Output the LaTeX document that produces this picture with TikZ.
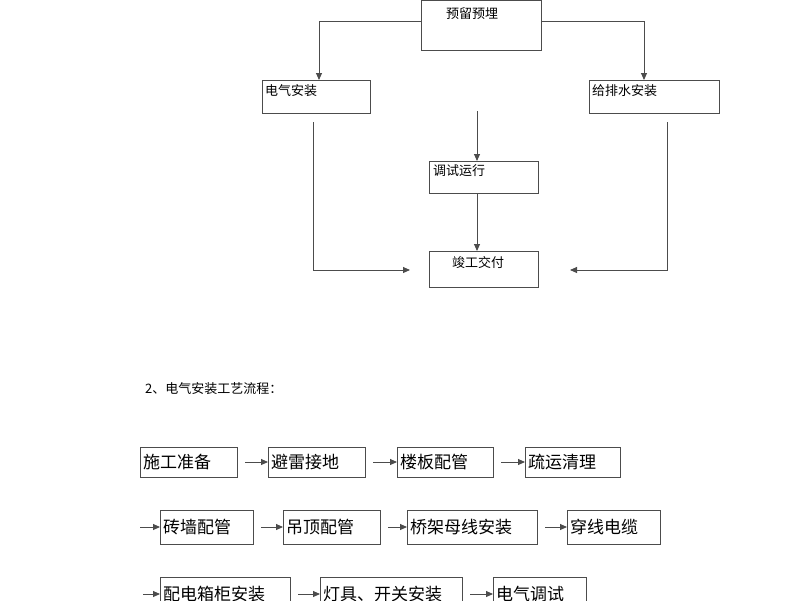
\documentclass[tikz,border=0pt]{standalone}
\usepackage{fontspec}
\setmainfont{Noto Sans CJK SC}
\usetikzlibrary{positioning,arrows.meta}
\tikzset{
	tbox/.style={draw=black!70, line width=0.9pt, inner sep=0pt, outer sep=0pt, anchor=north west},
	txt/.style={anchor=north west, inner sep=0pt, font=\fontsize{13}{13}\selectfont},
	rtxt/.style={anchor=west, inner sep=0pt, font=\fontsize{17}{17}\selectfont},
	flow/.style={-{Triangle[length=7pt,width=6pt]}, draw=black!70, line width=0.9pt},
}
\begin{document}
\begin{tikzpicture}[x=1pt,y=-1pt]
	\useasboundingbox (0,0) rectangle (800,600);
	
	% top flow chart.....................
	\node [tbox, minimum width=120pt, minimum height=50pt] (yl) at (421,0) {};
	\node [txt] at (446,7) {预留预埋};
	\node [tbox, minimum width=108pt, minimum height=33pt] (dq) at (262,80) {};
	\node [txt] at (265,84) {电气安装};
	\node [tbox, minimum width=130pt, minimum height=33pt] (gp) at (589,80) {};
	\node [txt] at (592,84) {给排水安装};
	\node [tbox, minimum width=109pt, minimum height=32pt] (ts) at (429,161) {};
	\node [txt] at (433,164) {调试运行};
	\node [tbox, minimum width=109pt, minimum height=36pt] (jg) at (429,251) {};
	\node [txt] at (452,256) {竣工交付};
	
	% connectors..........................
	\draw [flow] (yl.west |- 0,21) -| (dq.north -| 319,0);
	\draw [flow] (yl.east |- 0,21) -| (gp.north -| 644,0);
	\coordinate (tsin) at (477,111);
	\draw [flow] (tsin) -- (ts.north -| tsin);
	\draw [flow] (ts.south -| tsin) -- (jg.north -| tsin);
	\coordinate (dqout) at (313,122);
	\coordinate (jgl) at (410,270);
	\draw [flow] (dqout) |- (jgl);
	\coordinate (gpout) at (667,122);
	\coordinate (jgr) at (570,270);
	\draw [flow] (gpout) |- (jgr);
	
	% heading..............................
	\node [anchor=west, inner sep=0pt, font=\fontsize{13}{13}\selectfont] (hd) at (145,389) {2、电气安装工艺流程：};
	
	% process rows.........................
	\foreach \name/\x/\w/\y/\h/\t in {
		a1/140/97/447/30/施工准备, a2/268/97/447/30/避雷接地, a3/397/96/447/30/楼板配管, a4/525/95/447/30/疏运清理,
		b1/160/93/510/34/砖墙配管, b2/283/97/510/34/吊顶配管, b3/407/130/510/34/桥架母线安装, b4/567/93/510/34/穿线电缆,
		c1/160/130/577/34/配电箱柜安装, c2/320/142/577/34/灯具、开关安装, c3/493/93/577/34/电气调试}
	{
		\node [tbox, minimum width=\w pt, minimum height=\h pt] (\name) at (\x,\y) {};
		\node [rtxt] at ([xshift=3pt]\name.west) {\t};
	}
	\foreach \s/\e in {a1/a2, a2/a3, a3/a4, b1/b2, b2/b3, b3/b4, c1/c2, c2/c3}
		\draw [flow] ([xshift=8pt]\s.east) -- (\e.west);
	\coordinate (bin) at (140,527);
	\draw [flow] (bin) -- (b1.west);
	\coordinate (cin) at (143,594);
	\draw [flow] (cin) -- (c1.west);
	
\end{tikzpicture}
\end{document}
